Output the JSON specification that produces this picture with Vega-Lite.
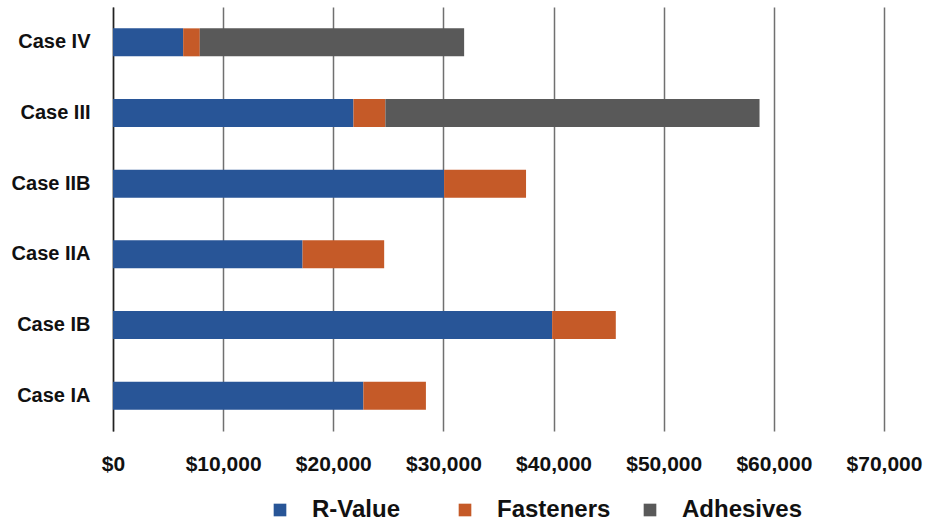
{
  "$schema": "https://vega.github.io/schema/vega-lite/v6.json",
  "autosize": "none",
  "width": 771,
  "height": 424,
  "padding": {"left": 113, "top": 7, "right": 57, "bottom": 94},
  "background": "white",
  "data": {
    "values": [
      {"case": "Case IV", "category": "R-Value", "cost": 6370},
      {"case": "Case IV", "category": "Fasteners", "cost": 1510},
      {"case": "Case IV", "category": "Adhesives", "cost": 24000},
      {"case": "Case III", "category": "R-Value", "cost": 21830},
      {"case": "Case III", "category": "Fasteners", "cost": 2900},
      {"case": "Case III", "category": "Adhesives", "cost": 33970},
      {"case": "Case IIB", "category": "R-Value", "cost": 30060},
      {"case": "Case IIB", "category": "Fasteners", "cost": 7440},
      {"case": "Case IIB", "category": "Adhesives", "cost": 0},
      {"case": "Case IIA", "category": "R-Value", "cost": 17210},
      {"case": "Case IIA", "category": "Fasteners", "cost": 7410},
      {"case": "Case IIA", "category": "Adhesives", "cost": 0},
      {"case": "Case IB", "category": "R-Value", "cost": 39870},
      {"case": "Case IB", "category": "Fasteners", "cost": 5780},
      {"case": "Case IB", "category": "Adhesives", "cost": 0},
      {"case": "Case IA", "category": "R-Value", "cost": 22730},
      {"case": "Case IA", "category": "Fasteners", "cost": 5680},
      {"case": "Case IA", "category": "Adhesives", "cost": 0}
    ]
  },
  "mark": {"type": "bar"},
  "encoding": {
    "y": {
      "field": "case",
      "type": "nominal",
      "sort": ["Case IV", "Case III", "Case IIB", "Case IIA", "Case IB", "Case IA"],
      "scale": {"paddingInner": 0.604, "paddingOuter": 0.302},
      "axis": {
        "title": null,
        "ticks": false,
        "domain": true,
        "domainColor": "#222222",
        "domainWidth": 1.5,
        "labelPadding": 23,
        "labelFont": "Liberation Sans",
        "labelFontWeight": "bold",
        "labelFontSize": 20,
        "labelColor": "#111111"
      }
    },
    "x": {
      "field": "cost",
      "type": "quantitative",
      "stack": "zero",
      "scale": {"domain": [0, 70000], "nice": false},
      "axis": {
        "title": null,
        "values": [0, 10000, 20000, 30000, 40000, 50000, 60000, 70000],
        "format": "$,d",
        "ticks": false,
        "domain": false,
        "grid": true,
        "gridColor": "#707070",
        "gridWidth": 1.5,
        "labelPadding": 22,
        "labelFlush": false,
        "labelOverlap": false,
        "labelFont": "Liberation Sans",
        "labelFontWeight": "bold",
        "labelFontSize": 21,
        "labelColor": "#111111"
      }
    },
    "color": {
      "field": "category",
      "type": "nominal",
      "sort": ["R-Value", "Fasteners", "Adhesives"],
      "scale": {
        "domain": ["R-Value", "Fasteners", "Adhesives"],
        "range": ["#285597", "#C55A28", "#595959"]
      },
      "legend": {
        "title": null,
        "orient": "none",
        "legendX": 155,
        "legendY": 491,
        "direction": "horizontal",
        "gridAlign": "all",
        "padding": 0,
        "symbolType": "square",
        "symbolSize": 160,
        "symbolStrokeWidth": 0,
        "labelOffset": 20,
        "labelFont": "Liberation Sans",
        "labelFontWeight": "bold",
        "labelFontSize": 24,
        "labelColor": "#111111",
        "columnPadding": 20
      }
    },
    "order": {"field": "category", "sort": "descending"}
  },
  "config": {"view": {"stroke": null}}
}
